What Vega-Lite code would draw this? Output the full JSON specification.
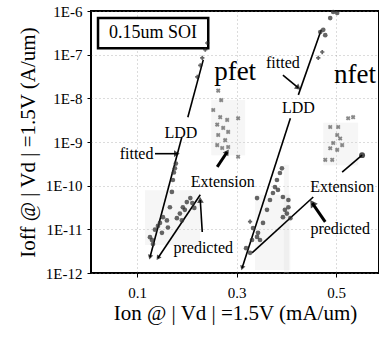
{
  "$schema": "https://vega.github.io/schema/vega-lite/v6.json",
  "width": 288,
  "height": 262,
  "autosize": {"type": "none"},
  "padding": {"left": 91, "top": 11, "right": 0, "bottom": 65},
  "background": "white",
  "config": {
    "view": {"stroke": "black", "strokeWidth": 2},
    "font": "Liberation Serif",
    "axis": {"domain": false, "tickColor": "black", "labelColor": "black", "titleColor": "black", "labelFont": "Liberation Serif", "titleFont": "Liberation Serif", "titleFontWeight": "normal", "gridColor": "#888", "gridDash": [1, 3], "gridOpacity": 0.6}
  },
  "datasets": {
    "lines": [
      {"seg": "pL1", "x": 0.126, "y": 2.3e-12}, {"seg": "pL1", "x": 0.190, "y": 1.3e-9},
      {"seg": "pL2", "x": 0.202, "y": 3.7e-9}, {"seg": "pL2", "x": 0.233, "y": 7.6e-8},
      {"seg": "pE", "x": 0.142, "y": 2.2e-12}, {"seg": "pE", "x": 0.227, "y": 6.2e-11},
      {"seg": "nL1", "x": 0.311, "y": 1.3e-12}, {"seg": "nL1", "x": 0.408, "y": 3.5e-9},
      {"seg": "nL2", "x": 0.424, "y": 1.2e-8}, {"seg": "nL2", "x": 0.470, "y": 3.7e-7},
      {"seg": "nE", "x": 0.331, "y": 2.9e-12}, {"seg": "nE", "x": 0.454, "y": 5.5e-11}
    ],
    "arrows": [
      {"id": "a1", "x": 0.136, "y": 5.4e-10, "x2": 0.180, "y2": 5.4e-10, "thick": "no"},
      {"id": "a2", "x": 0.231, "y": 8.7e-12, "x2": 0.227, "y2": 4.7e-11, "thick": "no"},
      {"id": "a3", "x": 0.261, "y": 2.7e-10, "x2": 0.281, "y2": 5.9e-10, "thick": "yes"},
      {"id": "a4", "x": 0.393, "y": 3.4e-8, "x2": 0.424, "y2": 1.74e-8, "thick": "no"},
      {"id": "a5", "x": 0.478, "y": 1.48e-11, "x2": 0.452, "y2": 4e-11, "thick": "yes"},
      {"id": "a6", "x": 0.512, "y": 2.04e-10, "x2": 0.552, "y2": 5e-10, "thick": "no"}
    ],
    "heads": [
      {"id": "a1", "x": 0.180, "y": 5.4e-10},
      {"id": "a2", "x": 0.227, "y": 4.7e-11},
      {"id": "a3", "x": 0.281, "y": 5.9e-10},
      {"id": "a4", "x": 0.424, "y": 1.74e-8},
      {"id": "a5", "x": 0.452, "y": 4e-11},
      {"id": "a6", "x": 0.552, "y": 5e-10},
      {"id": "pL", "x": 0.126, "y": 2.3e-12},
      {"id": "pE", "x": 0.142, "y": 2.2e-12},
      {"id": "nL", "x": 0.311, "y": 1.3e-12}
    ],
    "patches": [
      {"x": 0.249, "x2": 0.317, "y": 9.1e-9, "y2": 5e-10},
      {"x": 0.116, "x2": 0.227, "y": 7.9e-11, "y2": 4.4e-12},
      {"x": 0.474, "x2": 0.544, "y": 2.75e-9, "y2": 2.95e-10},
      {"x": 0.337, "x2": 0.408, "y": 6.2e-11, "y2": 1.17e-12},
      {"x": 0.395, "x2": 0.405, "y": 3e-10, "y2": 1e-12}
    ],
    "points": [
      {"x": 0.126, "y": 6.6e-12, "g": "dot"}, {"x": 0.132, "y": 4.6e-12, "g": "dot"}, {"x": 0.136, "y": 9.8e-12, "g": "dot"},
      {"x": 0.142, "y": 1.2e-11, "g": "dot"}, {"x": 0.146, "y": 1.4e-11, "g": "dot"}, {"x": 0.152, "y": 1.9e-11, "g": "dot"},
      {"x": 0.150, "y": 8.3e-12, "g": "dot"}, {"x": 0.160, "y": 1.6e-11, "g": "dot"}, {"x": 0.162, "y": 1.1e-11, "g": "dot"},
      {"x": 0.166, "y": 3.2e-11, "g": "dot"}, {"x": 0.170, "y": 7.2e-11, "g": "dot"}, {"x": 0.172, "y": 1.35e-10, "g": "dot"},
      {"x": 0.174, "y": 2e-10, "g": "dot"}, {"x": 0.176, "y": 2.5e-10, "g": "dot"}, {"x": 0.178, "y": 3.2e-10, "g": "dot"},
      {"x": 0.130, "y": 5.7e-12, "g": "dot"},
      {"x": 0.221, "y": 3.1e-8, "g": "plus"}, {"x": 0.227, "y": 5.7e-8, "g": "plus"}, {"x": 0.231, "y": 8.4e-8, "g": "plus"},
      {"x": 0.237, "y": 1.3e-7, "g": "plus"}, {"x": 0.241, "y": 1.85e-7, "g": "plus"},
      {"x": 0.186, "y": 2.3e-11, "g": "dot"}, {"x": 0.192, "y": 3.2e-11, "g": "dot"}, {"x": 0.200, "y": 4.2e-11, "g": "dot"},
      {"x": 0.207, "y": 5.2e-11, "g": "dot"}, {"x": 0.211, "y": 4e-11, "g": "dot"}, {"x": 0.190, "y": 1.6e-11, "g": "dot"},
      {"x": 0.196, "y": 2.8e-11, "g": "dot"}, {"x": 0.180, "y": 1.8e-11, "g": "dot"}, {"x": 0.215, "y": 3.1e-11, "g": "dot"},
      {"x": 0.327, "y": 2.9e-12, "g": "dot"}, {"x": 0.331, "y": 5.7e-12, "g": "dot"}, {"x": 0.333, "y": 1.07e-11, "g": "dot"},
      {"x": 0.327, "y": 1.5e-11, "g": "plus"}, {"x": 0.343, "y": 8.3e-12, "g": "dot"}, {"x": 0.347, "y": 5.7e-12, "g": "dot"},
      {"x": 0.341, "y": 6.7e-12, "g": "dot"}, {"x": 0.353, "y": 1.4e-11, "g": "dot"}, {"x": 0.361, "y": 2.8e-11, "g": "dot"},
      {"x": 0.367, "y": 4.7e-11, "g": "dot"}, {"x": 0.373, "y": 6.8e-11, "g": "dot"}, {"x": 0.377, "y": 9.3e-11, "g": "dot"},
      {"x": 0.381, "y": 1.35e-10, "g": "dot"}, {"x": 0.387, "y": 1.95e-10, "g": "dot"}, {"x": 0.391, "y": 2.5e-10, "g": "dot"},
      {"x": 0.383, "y": 8e-11, "g": "dot"}, {"x": 0.341, "y": 5.2e-11, "g": "dot"}, {"x": 0.319, "y": 3.7e-12, "g": "dot"},
      {"x": 0.393, "y": 5.5e-11, "g": "dot"}, {"x": 0.397, "y": 2.8e-11, "g": "dot"}, {"x": 0.401, "y": 2.3e-11, "g": "dot"},
      {"x": 0.404, "y": 3.2e-11, "g": "dot"}, {"x": 0.393, "y": 1.9e-11, "g": "dot"}, {"x": 0.404, "y": 4.7e-11, "g": "dot"},
      {"x": 0.408, "y": 1.8e-11, "g": "dot"},
      {"x": 0.468, "y": 3.3e-7, "g": "dot"}, {"x": 0.474, "y": 3.7e-7, "g": "dot"}, {"x": 0.478, "y": 2.8e-7, "g": "dot"},
      {"x": 0.472, "y": 1.15e-7, "g": "plus"}, {"x": 0.464, "y": 8.4e-8, "g": "plus"}, {"x": 0.494, "y": 9.5e-7, "g": "dot"},
      {"x": 0.502, "y": 9e-7, "g": "dot"}, {"x": 0.488, "y": 6.9e-7, "g": "dot"},
      {"x": 0.253, "y": 5.4e-9, "g": "cross"}, {"x": 0.267, "y": 3.7e-9, "g": "cross"}, {"x": 0.281, "y": 3.2e-9, "g": "cross"},
      {"x": 0.303, "y": 3.5e-9, "g": "cross"}, {"x": 0.261, "y": 2.5e-9, "g": "cross"}, {"x": 0.273, "y": 2.1e-9, "g": "cross"},
      {"x": 0.283, "y": 1.7e-9, "g": "cross"}, {"x": 0.263, "y": 1.45e-9, "g": "cross"}, {"x": 0.277, "y": 1.1e-9, "g": "cross"},
      {"x": 0.261, "y": 8.5e-10, "g": "cross"}, {"x": 0.271, "y": 7.3e-10, "g": "cross"}, {"x": 0.283, "y": 7.7e-10, "g": "cross"},
      {"x": 0.303, "y": 4.6e-10, "g": "cross"}, {"x": 0.263, "y": 1.5e-8, "g": "cross"}, {"x": 0.269, "y": 9.1e-9, "g": "cross"},
      {"x": 0.488, "y": 2.2e-9, "g": "cross"}, {"x": 0.504, "y": 2.2e-9, "g": "cross"}, {"x": 0.524, "y": 3.5e-9, "g": "cross"},
      {"x": 0.534, "y": 3.7e-9, "g": "cross"}, {"x": 0.502, "y": 1.45e-9, "g": "cross"}, {"x": 0.508, "y": 1.2e-9, "g": "cross"},
      {"x": 0.494, "y": 9.5e-10, "g": "cross"}, {"x": 0.512, "y": 8.5e-10, "g": "cross"}, {"x": 0.488, "y": 7.2e-10, "g": "cross"},
      {"x": 0.502, "y": 6.6e-10, "g": "cross"}, {"x": 0.478, "y": 3.9e-10, "g": "cross"}, {"x": 0.492, "y": 3.9e-10, "g": "cross"}
    ],
    "labels": [
      {"label": "fitted", "x": 0.099, "y": 5.4e-10, "k": "small"},
      {"label": "LDD", "x": 0.188, "y": 1.6e-9, "k": "small"},
      {"label": "Extension", "x": 0.272, "y": 1.2e-10, "k": "small"},
      {"label": "predicted", "x": 0.233, "y": 3.7e-12, "k": "small"},
      {"label": "fitted", "x": 0.393, "y": 6.5e-8, "k": "small"},
      {"label": "LDD", "x": 0.424, "y": 6e-9, "k": "small"},
      {"label": "Extension", "x": 0.512, "y": 9.3e-11, "k": "small"},
      {"label": "predicted", "x": 0.508, "y": 1.02e-11, "k": "small"},
      {"label": "pfet", "x": 0.297, "y": 4e-8, "k": "big"},
      {"label": "nfet", "x": 0.538, "y": 3.4e-8, "k": "big"},
      {"label": "0.15um SOI", "x": 0.132, "y": 3.2e-7, "k": "box"}
    ],
    "box": [{"x": 0.0216, "x2": 0.243, "y": 6.9e-7, "y2": 1.4e-7}]
  },
  "encoding": {
    "x": {"field": "x", "type": "quantitative", "scale": {"domain": [0.0075, 0.586], "nice": false, "zero": false},
      "axis": {"values": [0.1, 0.3, 0.5], "format": ".1f", "title": "Ion @  | Vd | =1.5V (mA/um)", "titleFontSize": 21, "titlePadding": 2, "labelFontSize": 15, "labelPadding": 8, "tickSize": 4, "grid": true}},
    "y": {"field": "y", "type": "quantitative", "scale": {"type": "log", "domain": [1e-12, 1e-6], "nice": false},
      "axis": {"values": [1e-12, 1e-11, 1e-10, 1e-9, 1e-8, 1e-7, 1e-6], "labelExpr": "'1E' + round(log(datum.value)/LN10)", "title": "Ioff @ | Vd | =1.5V (A/um)", "titleFontSize": 21, "titlePadding": 7, "labelFontSize": 15, "labelPadding": 5, "tickSize": 4, "grid": true}}
  },
  "layer": [
    {"data": {"name": "patches"}, "mark": {"type": "rect", "fill": "#d6d6d6", "opacity": 0.22},
      "encoding": {"x2": {"field": "x2"}, "y2": {"field": "y2"}}},
    {"data": {"name": "box"}, "mark": {"type": "rect", "fill": "white", "stroke": "black", "strokeWidth": 2.5},
      "encoding": {"x2": {"field": "x2"}, "y2": {"field": "y2"}}},
    {"data": {"name": "lines"}, "mark": {"type": "line", "color": "black", "strokeWidth": 1.6},
      "encoding": {"detail": {"field": "seg"}}},
    {"data": {"name": "arrows"}, "transform": [{"filter": "datum.thick == 'no'"}], "mark": {"type": "rule", "color": "black", "strokeWidth": 1.6},
      "encoding": {"x2": {"field": "x2"}, "y2": {"field": "y2"}}},
    {"data": {"name": "arrows"}, "transform": [{"filter": "datum.thick == 'yes'"}], "mark": {"type": "rule", "color": "black", "strokeWidth": 3},
      "encoding": {"x2": {"field": "x2"}, "y2": {"field": "y2"}}},
    {"data": {"name": "points"}, "transform": [{"filter": "datum.g == 'dot'"}], "mark": {"type": "point", "shape": "circle", "filled": true, "size": 22, "color": "#333", "opacity": 0.75}},
    {"data": {"name": "points"}, "transform": [{"filter": "datum.g == 'plus'"}], "mark": {"type": "point", "shape": "cross", "filled": true, "size": 18, "color": "#222"}},
    {"data": {"name": "points"}, "transform": [{"filter": "datum.g == 'cross'"}], "mark": {"type": "point", "shape": "cross", "angle": 45, "filled": true, "size": 22, "color": "#555", "opacity": 0.7}},
    {"data": {"name": "heads"}, "transform": [{"filter": "datum.id == 'a1'"}], "mark": {"type": "point", "shape": "triangle-up", "filled": true, "size": 45, "color": "black", "angle": 90}},
    {"data": {"name": "heads"}, "transform": [{"filter": "datum.id == 'a2'"}], "mark": {"type": "point", "shape": "triangle-up", "filled": true, "size": 45, "color": "black", "angle": -4}},
    {"data": {"name": "heads"}, "transform": [{"filter": "datum.id == 'a3'"}], "mark": {"type": "point", "shape": "triangle-up", "filled": true, "size": 45, "color": "black", "angle": 34}},
    {"data": {"name": "heads"}, "transform": [{"filter": "datum.id == 'a4'"}], "mark": {"type": "point", "shape": "triangle-up", "filled": true, "size": 45, "color": "black", "angle": 131}},
    {"data": {"name": "heads"}, "transform": [{"filter": "datum.id == 'a5'"}], "mark": {"type": "point", "shape": "triangle-up", "filled": true, "size": 70, "color": "black", "angle": -34}},
    {"data": {"name": "heads"}, "transform": [{"filter": "datum.id == 'a6'"}], "mark": {"type": "point", "shape": "circle", "filled": true, "size": 35, "color": "black"}},
    {"data": {"name": "heads"}, "transform": [{"filter": "datum.id == 'pL'"}], "mark": {"type": "point", "shape": "triangle-up", "filled": true, "size": 30, "color": "black", "angle": -165}},
    {"data": {"name": "heads"}, "transform": [{"filter": "datum.id == 'pE'"}], "mark": {"type": "point", "shape": "triangle-up", "filled": true, "size": 30, "color": "black", "angle": -146}},
    {"data": {"name": "heads"}, "transform": [{"filter": "datum.id == 'nL'"}], "mark": {"type": "point", "shape": "triangle-up", "filled": true, "size": 30, "color": "black", "angle": -162}},
    {"data": {"name": "labels"}, "transform": [{"filter": "datum.k == 'small'"}], "mark": {"type": "text", "font": "Liberation Serif", "fontSize": 16, "color": "black", "align": "center", "baseline": "middle"},
      "encoding": {"text": {"field": "label"}}},
    {"data": {"name": "labels"}, "transform": [{"filter": "datum.k == 'big'"}], "mark": {"type": "text", "font": "Liberation Serif", "fontSize": 27, "color": "black", "align": "center", "baseline": "middle"},
      "encoding": {"text": {"field": "label"}}},
    {"data": {"name": "labels"}, "transform": [{"filter": "datum.k == 'box'"}], "mark": {"type": "text", "font": "Liberation Serif", "fontSize": 18, "color": "black", "align": "center", "baseline": "middle"},
      "encoding": {"text": {"field": "label"}}}
  ]
}
